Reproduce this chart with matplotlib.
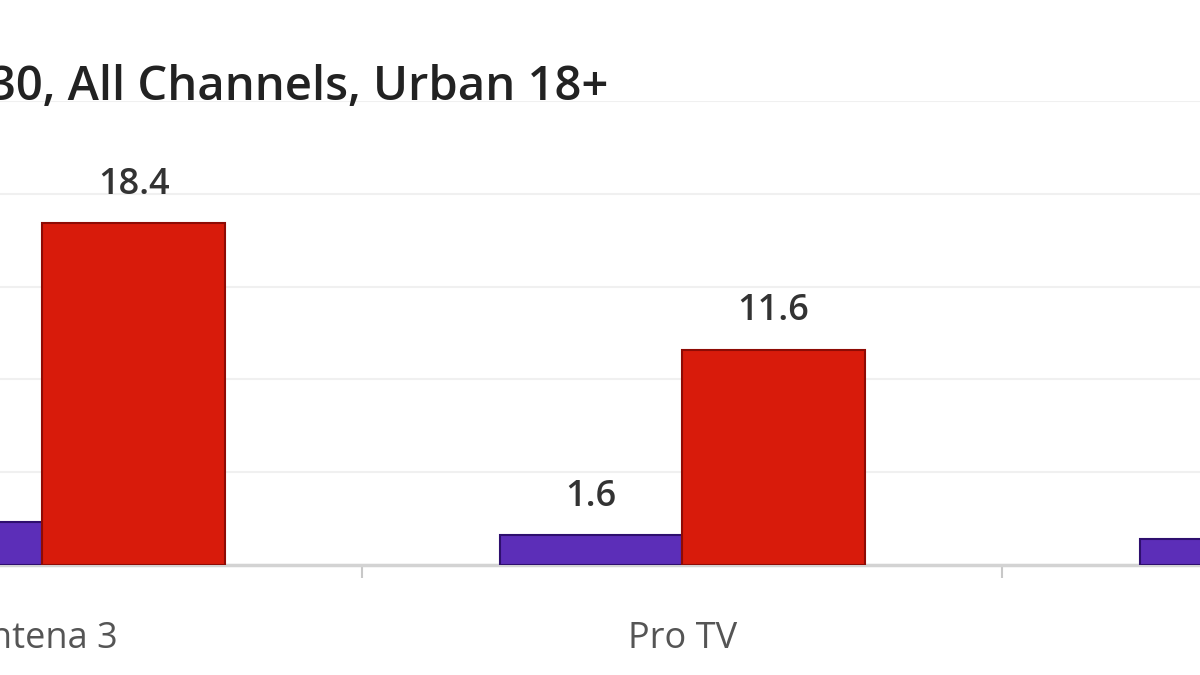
import matplotlib
matplotlib.use('Agg')
import matplotlib.pyplot as plt
import numpy as np

plt.rcParams['font.family'] = ['Open Sans', 'DejaVu Sans']

channels = ['Antena 3', 'Pro TV', '']
purple_vals = [2.3, 1.6, 1.4]
red_vals = [18.4, 11.6, np.nan]
title_text = '30, All Channels, Urban 18+'

def addLabels(ax, xs, vals):
    for x, v in zip(xs, vals):
        if np.isnan(v):
            continue
        ax.text(x, v + 1.1, '%.1f' % v, ha='center', va='bottom',
                fontsize=26, color='#333333', fontweight='semibold')

def main():
    fig = plt.figure(figsize=(12, 6.75), dpi=100)
    ax = fig.add_axes([0, 0.163, 1, 0.6874])

    x = np.arange(len(channels))
    w = 0.285
    ax.bar(x - w / 2, purple_vals, w, color='#5C2EB8', edgecolor='#2E0F6E', linewidth=1.5, zorder=3)
    ax.bar(x + w / 2, red_vals, w, color='#D81B0B', edgecolor='#8E0B05', linewidth=1.5, zorder=3)
    addLabels(ax, x - w / 2, purple_vals)
    addLabels(ax, x + w / 2, red_vals)

    ax.set_yticks(np.arange(0, 26, 5))
    ax.yaxis.grid(True, color='#F0F0F0', linewidth=1.5, zorder=0)
    ax.tick_params(axis='y', left=False, labelleft=False)

    for side in ['top', 'right', 'left']:
        ax.spines[side].set_visible(False)
    ax.spines['bottom'].set_color('#D3D3D3')
    ax.spines['bottom'].set_linewidth(2.5)

    # category boundary ticks
    ax.set_xticks(x + 0.5, minor=False)
    ax.set_xticklabels([])
    ax.tick_params(axis='x', length=9, width=1.5, color='#C8C8C8')
    ax.set_xticks(x, minor=True)
    ax.set_xticklabels(channels, minor=True, fontsize=26, color='#555555')
    ax.tick_params(axis='x', which='minor', length=0, pad=40)

    ax.set_xlim(-0.0664, 1.8086)
    ax.set_ylim(0, 25)

    fig.text(608 / 1200, 1 - 88 / 675, title_text, ha='right', va='center',
             fontsize=34, color='#222222', fontweight='semibold')

    fig.savefig('out.png', dpi=100)

if __name__ == '__main__':
    main()
